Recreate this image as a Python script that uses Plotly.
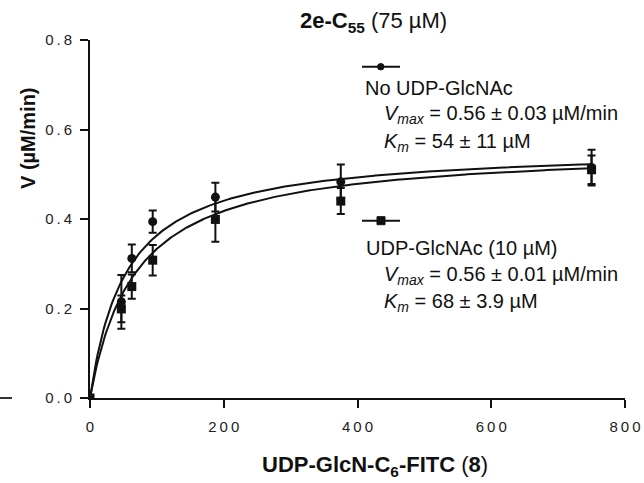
import numpy as np
import plotly.graph_objects as go

# Substrate concentrations (µM) and measured initial velocities (µM/min)
substrate = [0, 46.875, 62.5, 93.75, 187.5, 375, 750]
v_no_glcnac = [0, 0.215, 0.312, 0.394, 0.449, 0.483, 0.515]
err_no_glcnac = [0, 0.060, 0.031, 0.025, 0.032, 0.039, 0.040]
v_glcnac = [0, 0.199, 0.249, 0.308, 0.399, 0.440, 0.510]
err_glcnac = [0, 0.030, 0.027, 0.034, 0.050, 0.029, 0.032]

# Michaelis-Menten fit parameters
vmax_no, km_no = 0.56, 54
vmax_gl, km_gl = 0.56, 68

x_ticks = [0, 200, 400, 600, 800]
y_ticks = [0.0, 0.2, 0.4, 0.6, 0.8]

SP = "\u2009"


def spaced(s):
    return SP.join(list(s))


FONT = "Liberation Sans, Arial, Helvetica, sans-serif"
BLACK = "#111111"

fig = go.Figure()

s_fit = np.linspace(0, max(substrate), 400)
for vmax, km in [(vmax_no, km_no), (vmax_gl, km_gl)]:
    fig.add_trace(go.Scatter(
        x=s_fit, y=vmax * s_fit / (km + s_fit), mode="lines",
        line=dict(color=BLACK, width=2), showlegend=False, hoverinfo="skip"))

fig.add_trace(go.Scatter(
    x=substrate, y=v_glcnac, mode="markers",
    marker=dict(symbol="square", size=9, color=BLACK),
    error_y=dict(type="data", array=err_glcnac, color=BLACK, thickness=2, width=4),
    showlegend=False))
fig.add_trace(go.Scatter(
    x=substrate[1:], y=v_no_glcnac[1:], mode="markers",
    marker=dict(symbol="circle", size=9, color=BLACK),
    error_y=dict(type="data", array=err_no_glcnac[1:], color=BLACK, thickness=2, width=4),
    showlegend=False))

W, H = 644, 483
L, R, T, B = 90, 19, 40, 85
pw, ph = W - L - R, H - T - B


def px(x):
    return (x - L) / pw


def py(y):
    return (H - B - y) / ph


annotations = []


def text(x, y, s, size=20, xanchor="left", angle=0):
    annotations.append(dict(
        x=px(x), y=py(y), xref="paper", yref="paper", text=s, showarrow=False,
        xanchor=xanchor, yanchor="middle", textangle=angle,
        font=dict(family=FONT, size=size, color=BLACK)))


text(373, 22, "<b>2e-C<sub>55</sub></b> (75 µM)", size=22, xanchor="center")

# axis titles
text(375, 466, "<b>UDP-GlcN-C<sub>6</sub>-FITC</b> (<b>8</b>)", size=22, xanchor="center")
text(28, 138, "<b>V (µM/min)</b>", size=20, xanchor="center", angle=-90)

text(363, 88, "No UDP-GlcNAc")
text(382, 115, "<i>V<sub>max</sub></i> = 0.56 ± 0.03 µM/min")
text(382, 142, "<i>K<sub>m</sub></i> = 54 ± 11 µM")

text(364, 248, "UDP-GlcNAc (10 µM)")
text(382, 275, "<i>V<sub>max</sub></i> = 0.56 ± 0.01 µM/min")
text(382, 302, "<i>K<sub>m</sub></i> = 68 ± 3.9 µM")

shapes = []
# legend keys
for yk in (66.7, 220.7):
    shapes.append(dict(type="line", xref="paper", yref="paper",
                       x0=px(362), x1=px(400), y0=py(yk), y1=py(yk),
                       line=dict(color=BLACK, width=2)))
shapes.append(dict(type="circle", xref="paper", yref="paper",
                   x0=px(377.5), x1=px(384), y0=py(70), y1=py(63.5),
                   fillcolor=BLACK, line=dict(color=BLACK, width=1)))
shapes.append(dict(type="rect", xref="paper", yref="paper",
                   x0=px(377), x1=px(385), y0=py(224.7), y1=py(216.7),
                   fillcolor=BLACK, line=dict(color=BLACK, width=1)))
# short stroke at the left edge
shapes.append(dict(type="line", xref="paper", yref="paper",
                   x0=px(0), x1=px(12), y0=py(398), y1=py(398),
                   line=dict(color="#333333", width=2)))

fig.update_layout(
    width=W, height=H,
    margin=dict(l=L, r=R, t=T, b=B, pad=0),
    paper_bgcolor="white", plot_bgcolor="white",
    font=dict(family=FONT, color=BLACK),
    annotations=annotations, shapes=shapes,
    showlegend=False,
    xaxis=dict(
        range=[0, 800], tickmode="array", tickvals=x_ticks,
        ticktext=[spaced(str(v)) for v in x_ticks],
        ticks="outside", ticklen=8, tickwidth=2, tickcolor=BLACK,
        ticklabeloverflow="allow", ticklabelstandoff=6, automargin=False,
        showline=True, linewidth=2, linecolor=BLACK, showgrid=False, zeroline=False,
        tickfont=dict(family=FONT, size=15, color="#222222"),
    ),
    yaxis=dict(
        range=[0, 0.8], tickmode="array", tickvals=y_ticks,
        ticktext=[spaced(f"{v:.1f}") for v in y_ticks],
        ticks="outside", ticklen=8, tickwidth=2, tickcolor=BLACK,
        ticklabelstandoff=5, automargin=False,
        showline=True, linewidth=2, linecolor=BLACK, showgrid=False, zeroline=False,
        tickfont=dict(family=FONT, size=15, color="#222222"),
    ),
)

fig.write_html("out.html")
